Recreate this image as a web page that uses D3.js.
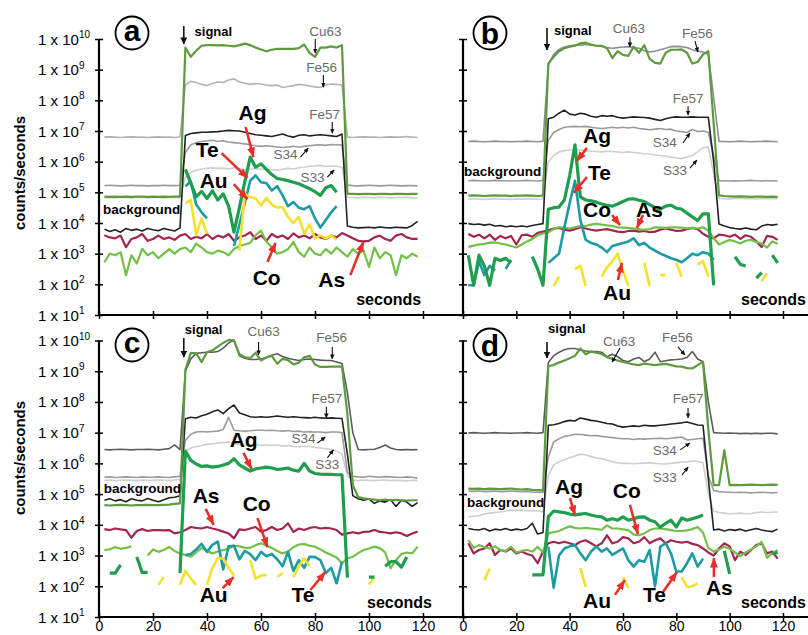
<!DOCTYPE html>
<html>
<head>
<meta charset="utf-8">
<title>LA-ICP-MS time-resolved signals</title>
<script src="https://d3js.org/d3.v7.min.js"></script>
<style>
  body { margin: 0; background: #fff; }
  svg { font-family: "Liberation Sans", Arial, sans-serif; }
</style>
</head>
<body>
<div id="chart"></div>
<script>
const _ = null;

// sample times (s)
const times = [2,4,6,8,10,12,14,16,18,20,
  22,24,26,28,30,32,34,36,38,40,
  42,44,46,48,50,52,54,56,58,60,
  62,64,66,68,70,72,74,76,78,80,
  82,84,86,88,90,92,94,96,98,100,
  102,104,106,108,110,112,114,116,118];

const decades = [1,2,3,4,5,6,7,8,9,10];
const xTicks = [0,20,40,60,80,100,120];

// all signals are log10(counts/s), one value per sample time, null = not shown
// ---- panel a ----
const aCu63 = [
4.86,4.85,4.86,4.85,4.86,4.85,4.86,4.86,4.85,4.86,
4.85,4.86,4.85,4.86,4.87,9.72,9.42,9.62,9.78,9.80,
9.80,9.79,9.80,9.78,9.76,9.80,9.85,9.80,9.72,9.66,
9.60,9.65,9.68,9.68,9.68,9.68,9.70,9.82,9.55,9.42,
9.72,9.72,9.76,9.72,9.80,4.96,4.95,4.94,4.95,4.95,
4.94,4.95,4.95,4.94,4.95,4.95,4.94,4.95,4.95];
const aFe56 = [
6.80,6.81,6.80,6.79,6.80,6.81,6.80,6.80,6.79,6.80,
6.81,6.80,6.80,6.79,6.81,8.50,8.62,8.58,8.52,8.48,
8.55,8.60,8.58,8.66,8.70,8.60,8.56,8.52,8.55,8.53,
8.50,8.48,8.50,8.42,8.45,8.48,8.52,8.50,8.47,8.44,
8.42,8.50,8.53,8.52,8.50,6.80,6.79,6.80,6.81,6.80,
6.80,6.79,6.80,6.81,6.80,6.80,6.82,6.80,6.79];
const aFe57 = [
3.80,3.72,3.78,3.70,3.82,3.76,3.80,3.74,3.82,3.78,
3.75,3.82,3.78,3.74,3.84,6.85,6.92,6.94,6.96,6.96,
6.97,6.98,7.00,7.02,7.01,7.00,6.96,6.92,6.88,6.86,
6.84,6.82,6.86,6.90,6.84,6.80,6.86,6.88,6.84,6.86,
6.88,6.86,6.84,6.82,6.90,3.90,3.86,3.84,3.85,3.86,
3.84,3.87,3.85,3.84,3.86,3.85,3.84,3.92,4.05];
const aS34 = [
5.22,5.23,5.22,5.21,5.22,5.23,5.22,5.22,5.21,5.22,
5.22,5.23,5.22,5.22,5.23,6.30,6.55,6.62,6.66,6.68,
6.70,6.66,6.68,6.64,6.62,6.60,6.58,6.55,6.52,6.50,
6.52,6.50,6.48,6.46,6.48,6.50,6.47,6.50,6.52,6.54,
6.55,6.53,6.56,6.55,6.54,5.24,5.22,5.21,5.22,5.23,
5.22,5.21,5.22,5.23,5.22,5.21,5.22,5.22,5.21];
const aS33 = [
4.82,4.83,4.82,4.84,4.83,4.82,4.83,4.84,4.82,4.83,
4.83,4.82,4.84,4.83,4.82,5.50,5.65,5.72,5.76,5.78,
5.80,5.78,5.79,5.76,5.80,5.78,5.74,5.76,5.78,5.75,
5.76,5.74,5.72,5.75,5.78,5.76,5.80,5.82,5.85,5.86,
5.88,5.84,5.86,5.85,5.82,4.84,4.83,4.82,4.84,4.83,
4.82,4.84,4.83,4.82,4.83,4.84,4.83,4.82,4.80];
const aAg = [
_,_,_,_,_,_,_,_,_,_,
_,_,_,_,_,5.75,5.30,4.85,5.03,4.80,
5.05,4.75,4.95,4.55,3.70,4.50,5.35,6.15,5.82,5.93,
5.75,5.58,5.45,5.42,5.38,5.33,5.28,5.20,5.12,5.02,
4.90,5.15,5.22,5.00,_,_,_,_,_,_,
_,_,_,_,_,_,_,_,_];
const aTe = [
_,_,_,_,_,_,_,_,_,_,
_,_,_,_,_,5.20,5.35,4.60,4.35,4.15,
_,_,_,_,3.25,3.95,4.65,5.38,5.55,5.33,
5.30,5.06,5.20,4.90,4.55,4.68,4.50,4.45,4.55,4.15,
3.85,4.10,4.35,4.55,_,_,_,_,_,_,
_,_,_,_,_,_,_,_,_];
const aAu = [
_,_,_,_,_,_,_,_,_,_,
_,_,_,_,_,4.65,4.75,3.60,4.15,3.65,
_,_,_,_,_,3.10,4.95,4.85,4.80,4.57,
4.82,4.60,4.50,4.52,4.20,4.00,4.20,3.65,3.95,3.50,
3.60,3.50,3.60,3.45,_,_,_,_,_,_,
_,_,_,_,_,_,_,_,_];
const aCo = [
2.72,3.00,2.95,3.05,2.30,2.95,2.68,3.16,2.95,3.05,
2.85,3.00,3.15,3.00,3.15,3.20,3.05,3.33,3.20,3.05,
3.00,3.10,3.05,2.95,3.15,3.25,3.30,3.35,3.60,3.75,
3.40,3.20,3.00,3.05,3.15,3.38,3.05,2.90,3.20,3.00,
2.95,3.15,3.00,3.20,3.05,2.90,3.15,3.00,3.10,2.57,
3.20,2.85,3.05,2.95,2.30,2.95,2.85,3.00,2.90];
const aAs = [
3.60,3.53,3.50,3.59,3.21,3.48,3.53,3.64,3.42,3.48,
3.59,3.48,3.53,3.45,3.59,3.64,3.48,3.55,3.50,3.64,
3.48,3.59,3.53,3.64,3.42,3.53,3.59,3.70,3.48,3.59,
3.42,3.64,3.53,3.59,3.48,3.66,3.53,3.59,3.50,3.64,
3.53,3.48,3.59,3.53,3.67,3.59,3.50,3.42,3.40,3.42,
3.53,3.59,3.48,3.42,3.59,3.64,3.53,3.48,3.48];

// ---- panel b ----
const bCu63 = [
4.89,4.90,4.89,4.88,4.89,4.90,4.89,4.89,4.88,4.89,
4.89,4.90,4.89,4.88,4.89,9.20,9.42,9.60,9.70,9.75,
9.78,9.86,9.88,9.82,9.78,9.78,9.70,9.38,9.60,9.48,
9.45,9.75,9.55,9.80,9.35,9.22,9.20,9.55,9.65,9.65,
9.66,9.55,9.20,9.25,9.50,9.60,7.25,4.90,4.88,4.87,
4.86,4.87,4.86,4.85,4.86,4.86,4.85,4.86,4.85];
const bFe56 = [
6.66,6.67,6.66,6.65,6.66,6.67,6.66,6.66,6.65,6.66,
6.66,6.67,6.66,6.65,6.67,9.15,9.50,9.66,9.74,9.78,
9.80,9.80,9.82,9.80,9.78,9.76,9.72,9.70,9.72,9.74,
9.75,9.72,9.70,9.62,9.58,9.60,9.65,9.70,9.75,9.76,
9.75,9.72,9.65,9.60,9.58,9.50,8.10,6.66,6.66,6.65,
6.66,6.67,6.66,6.65,6.66,6.66,6.67,6.66,6.65];
const bFe57 = [
3.98,3.95,3.97,3.93,3.96,3.90,3.92,3.88,3.90,3.88,
3.90,3.88,3.92,3.95,3.98,7.40,7.45,7.58,7.68,7.55,
7.52,7.58,7.55,7.48,7.45,7.50,7.48,7.50,7.45,7.42,
7.44,7.46,7.45,7.44,7.42,7.38,7.34,7.40,7.44,7.46,
7.45,7.45,7.46,7.45,7.45,7.45,6.00,3.97,3.90,3.85,
3.82,3.80,3.84,3.80,3.78,3.90,3.95,3.93,3.96];
const bS34 = [
5.38,5.39,5.38,5.37,5.38,5.39,5.38,5.38,5.37,5.38,
5.38,5.39,5.38,5.37,5.39,6.70,6.95,7.05,7.12,7.14,
7.15,7.14,7.15,7.12,7.10,7.08,7.10,7.12,7.10,7.12,
7.10,7.12,7.08,7.06,7.04,7.06,7.08,7.05,7.06,7.00,
6.98,6.95,7.05,6.98,7.00,6.96,6.20,5.38,5.38,5.37,
5.38,5.37,5.38,5.39,5.38,5.37,5.38,5.38,5.37];
const bS33 = [
4.78,4.79,4.78,4.77,4.78,4.79,4.78,4.78,4.77,4.78,
4.78,4.79,4.78,4.77,4.79,6.00,6.20,6.32,6.36,6.38,
6.40,6.38,6.36,6.34,6.33,6.32,6.34,6.33,6.32,6.30,
6.32,6.30,6.28,6.26,6.25,6.22,6.20,6.18,6.15,6.12,
6.10,6.15,6.20,6.32,6.45,6.48,5.60,4.80,4.79,4.78,
4.80,4.81,4.79,4.80,4.78,4.80,4.79,4.80,4.79];
const bAg = [
2.95,1.97,2.95,2.60,1.97,2.85,2.78,2.85,2.70,_,
_,_,2.90,2.50,1.97,4.45,4.50,4.52,4.75,5.55,
6.55,4.85,4.75,4.72,4.68,4.62,4.58,4.55,4.62,4.70,
4.78,4.79,4.74,4.70,4.60,4.50,4.45,4.55,4.58,4.48,
4.45,4.32,4.20,4.08,4.30,4.30,1.97,_,_,_,
2.90,2.65,2.60,_,2.20,2.38,_,2.95,2.70];
const bTe = [
1.97,1.97,2.75,2.30,2.60,2.45,_,2.50,2.80,_,
_,_,_,_,_,2.70,2.85,3.00,3.85,4.65,
5.38,4.10,3.45,3.35,3.30,3.20,3.05,3.25,3.30,3.35,
3.40,3.50,3.28,3.35,3.20,3.10,3.00,2.93,2.85,2.80,
2.72,2.85,3.00,2.95,3.05,3.00,2.80,_,_,_,
_,_,_,_,_,_,_,_,_];
const bAu = [
_,_,_,_,_,_,_,_,_,_,
_,_,_,_,_,_,1.95,2.25,_,_,
2.50,2.60,1.95,_,_,2.25,2.55,2.75,3.00,2.45,
1.95,_,_,2.70,1.95,_,2.30,2.30,_,2.70,
2.25,_,_,2.65,2.75,2.25,_,_,_,_,
_,_,_,_,_,2.10,2.35,_,_];
const bCo = [
3.22,3.26,3.30,3.32,3.36,3.37,3.33,3.30,3.25,3.20,
3.30,3.40,3.48,3.60,3.66,3.70,3.80,3.86,3.85,3.82,
3.86,3.90,3.90,3.95,3.97,3.95,3.92,3.90,3.86,3.85,
3.84,3.82,3.80,3.78,3.80,3.86,3.85,3.84,3.86,3.86,
3.85,3.82,3.84,3.82,3.86,3.75,3.50,3.30,3.38,3.45,
3.40,3.33,3.42,3.45,3.38,3.33,3.20,3.40,3.32];
const bAs = [
3.64,3.55,3.62,3.50,3.62,3.45,3.58,3.50,3.58,3.30,
3.60,3.62,3.55,3.68,3.72,3.76,3.82,3.84,3.78,3.75,
3.80,3.86,3.82,3.78,3.75,3.78,3.80,3.76,3.72,3.70,
3.74,3.75,3.72,3.74,3.70,3.72,3.78,3.82,3.78,3.74,
3.75,3.80,3.84,3.80,3.65,3.55,3.50,3.62,3.60,3.55,
3.62,3.48,3.60,3.55,3.40,3.22,3.58,3.55,3.45];

// ---- panel c ----
const cCu63 = [
4.64,4.63,4.64,4.65,4.64,4.63,4.64,4.64,4.65,4.64,
4.64,4.65,4.66,4.68,4.70,9.05,9.60,9.58,9.30,9.62,
9.68,9.80,9.92,10.02,10.00,9.55,9.46,9.42,9.60,9.35,
9.45,9.50,9.25,9.40,9.36,9.22,9.28,9.45,9.50,9.22,
9.14,9.14,9.15,9.15,9.16,7.60,5.30,4.90,4.86,4.84,
4.82,4.80,4.82,4.80,4.81,4.80,4.79,4.80,4.80];
const cFe56 = [
6.45,6.44,6.45,6.46,6.45,6.44,6.45,6.45,6.46,6.45,
6.44,6.46,6.48,6.60,6.45,9.00,9.40,9.58,9.60,9.62,
9.62,9.64,9.75,9.92,10.02,9.50,9.42,9.38,9.38,9.40,
9.45,9.52,9.57,9.48,9.42,9.38,9.35,9.38,9.40,9.38,
9.36,9.35,9.35,9.30,9.25,8.30,7.00,6.45,6.44,6.45,
6.46,6.52,6.60,6.50,6.45,6.44,6.45,6.44,6.45];
const cFe57 = [
4.80,4.85,4.78,4.82,4.75,4.85,4.80,4.78,4.86,4.80,
4.75,4.82,4.88,4.90,4.95,7.45,7.50,7.48,7.55,7.60,
7.68,7.74,7.62,7.78,7.90,7.64,7.58,7.52,7.50,7.52,
7.50,7.52,7.54,7.52,7.50,7.52,7.50,7.49,7.48,7.50,
7.48,7.47,7.48,7.47,7.46,6.30,4.95,4.85,4.80,4.84,
4.70,4.78,4.74,4.82,4.60,4.80,4.74,4.60,4.72];
const cS34 = [
5.55,5.56,5.54,5.55,5.56,5.55,5.54,5.56,5.55,5.55,
5.56,5.55,5.54,5.56,5.58,6.75,6.95,7.02,7.04,7.02,
7.04,7.05,7.10,7.50,7.08,7.06,7.05,7.06,7.08,7.08,
7.07,7.08,7.06,7.05,7.07,7.04,7.05,7.02,7.03,7.02,
7.02,7.00,7.02,7.02,7.00,5.70,5.58,5.56,5.55,5.58,
5.56,5.55,5.57,5.56,5.55,5.54,5.56,5.55,5.52];
const cS33 = [
5.45,5.46,5.44,5.45,5.46,5.45,5.44,5.46,5.45,5.45,
5.46,5.45,5.44,5.46,5.48,6.40,6.50,6.55,6.58,6.62,
6.64,6.66,6.68,6.70,6.64,6.60,6.58,6.60,6.62,6.58,
6.60,6.58,6.60,6.56,6.58,6.55,6.54,6.56,6.55,6.52,
6.50,6.48,6.45,6.40,6.30,5.60,5.45,5.44,5.46,5.45,
5.44,5.45,5.46,5.44,5.45,5.44,5.43,5.45,5.44];
const cAg = [
_,2.43,2.43,2.70,_,_,2.95,2.45,2.45,_,
_,_,_,_,2.43,6.40,6.10,5.98,5.90,5.92,
5.88,5.90,5.95,6.00,6.15,5.95,5.85,5.75,5.82,5.85,
5.88,5.85,5.80,5.82,5.85,5.78,5.75,6.00,5.75,5.67,
5.65,5.64,5.64,5.63,5.63,2.28,_,_,_,2.30,
2.30,_,2.65,2.80,2.80,2.62,2.95,_,_];
const cTe = [
_,_,_,_,_,_,_,_,_,_,
_,_,_,_,_,3.02,3.05,3.20,3.38,3.12,
3.35,3.45,2.55,3.30,3.32,2.88,3.15,3.05,2.85,3.12,
2.98,3.05,2.88,2.65,3.12,2.50,2.85,2.60,2.96,2.95,
2.85,2.43,2.60,2.10,2.80,_,_,_,_,_,
_,_,_,_,_,_,_,_,_];
const cAu = [
_,_,_,_,_,_,_,_,_,_,
2.05,2.30,_,_,2.05,2.50,2.25,2.05,_,2.05,
2.60,2.92,2.90,2.60,2.35,_,_,2.85,2.25,2.35,
2.37,_,2.31,2.43,_,2.30,2.65,2.91,2.65,_,
_,_,_,_,_,_,_,_,_,2.05,
2.30,_,_,_,_,_,_,_,_];
const cCo = [
3.18,3.20,3.28,3.22,3.25,3.30,_,_,3.00,3.20,
3.12,3.18,3.28,3.15,3.07,3.02,2.96,3.10,3.25,3.15,
3.07,3.13,3.18,3.23,3.32,3.30,3.26,3.25,3.34,3.40,
3.32,3.25,3.15,3.07,3.13,3.27,3.36,3.38,3.32,3.29,
3.20,3.10,3.02,2.94,2.75,2.91,2.96,3.08,3.18,3.23,
3.29,3.24,3.10,2.58,2.85,3.05,3.10,3.07,3.29];
const cAs = [
3.86,3.83,3.88,3.85,3.83,3.58,3.80,3.86,3.80,3.83,
3.83,3.82,3.83,3.72,3.76,3.83,3.93,3.90,3.88,3.93,
3.88,3.84,3.78,3.72,3.56,3.85,3.83,3.88,3.93,3.78,
3.83,3.93,3.83,3.88,4.05,3.77,3.88,3.83,3.90,3.93,
3.88,3.90,3.88,3.83,3.68,3.72,3.76,3.72,3.77,3.78,
3.83,3.77,3.75,3.72,3.76,3.72,3.64,3.72,3.78];

// ---- panel d ----
const dCu63 = [
5.18,5.17,5.18,5.16,5.18,5.17,5.16,5.17,5.18,5.16,
5.15,5.16,5.14,5.13,5.12,9.17,9.20,9.28,9.35,9.42,
9.50,9.74,9.55,9.64,9.60,9.56,9.46,9.40,9.35,9.30,
9.26,9.22,9.20,9.25,9.22,9.20,9.22,9.24,9.20,9.16,
9.15,9.10,9.09,9.20,9.31,7.10,5.29,5.29,6.43,5.29,
5.30,5.29,5.30,5.31,5.30,5.29,5.30,5.31,5.30];
const dFe56 = [
6.99,7.00,6.99,6.98,6.99,7.00,6.99,6.99,6.98,6.99,
6.99,7.00,6.99,6.98,7.00,9.28,9.50,9.62,9.70,9.74,
9.74,9.70,9.66,9.64,9.64,9.62,9.47,9.55,9.47,9.35,
9.31,9.40,9.45,9.31,9.40,9.62,9.31,9.34,9.37,9.38,
9.40,9.45,9.64,9.40,9.31,8.00,7.00,6.99,6.98,6.99,
6.98,6.97,6.98,6.97,6.98,6.97,6.98,6.98,6.96];
const dFe57 = [
3.88,3.85,3.83,3.88,3.80,3.86,3.83,3.88,3.82,3.86,
3.83,3.88,4.05,3.70,3.75,7.24,7.26,7.30,7.36,7.40,
7.38,7.48,7.44,7.40,7.38,7.34,7.30,7.28,7.22,7.18,
7.20,7.22,7.20,7.24,7.22,7.22,7.24,7.26,7.28,7.30,
7.32,7.35,7.30,7.25,7.24,5.50,3.83,3.86,3.80,3.85,
3.82,3.86,3.80,3.84,3.88,3.83,3.80,3.78,3.86];
const dS34 = [
5.10,5.09,5.10,5.08,5.09,5.10,5.08,5.09,5.10,5.09,
5.08,5.09,5.07,5.06,5.05,6.20,6.70,6.80,6.88,6.91,
6.95,6.94,6.92,6.90,6.91,6.88,6.86,6.84,6.82,6.80,
6.80,6.78,6.80,6.79,6.80,6.81,6.82,6.80,6.82,6.84,
6.86,6.76,6.78,6.80,6.82,5.60,5.12,5.08,5.07,5.06,
5.05,5.06,5.05,5.04,5.05,5.06,5.05,5.04,5.05];
const dS33 = [
4.26,4.28,4.30,4.35,4.38,4.40,4.42,4.45,4.48,4.47,
4.48,4.46,4.47,4.45,4.42,5.60,5.95,6.05,6.12,6.18,
6.24,6.30,6.28,6.22,6.18,6.15,6.10,6.05,6.02,6.00,
6.00,5.99,6.00,6.01,6.02,6.00,5.99,5.98,6.00,6.02,
6.04,6.05,6.08,6.06,6.02,5.00,4.45,4.40,4.38,4.36,
4.37,4.38,4.36,4.37,4.40,4.42,4.40,4.41,4.42];
const dAg = [
_,_,_,_,_,_,_,_,_,_,
_,_,2.37,2.37,2.37,4.26,4.45,4.42,4.40,4.35,
4.32,4.35,4.37,4.32,4.28,4.26,4.15,4.20,4.15,4.26,
4.15,4.20,4.25,4.26,4.15,4.10,3.92,4.05,4.15,3.93,
4.22,4.15,4.20,4.25,4.32,_,_,_,3.15,2.40,
_,_,_,_,_,_,_,3.05,3.10];
const dTe = [
_,_,_,_,_,_,_,_,_,_,
_,_,_,_,_,3.29,1.95,3.00,3.23,3.30,
3.34,3.07,2.85,3.13,3.29,3.13,3.23,3.02,3.13,3.23,
2.85,2.64,2.85,2.80,3.18,2.00,3.29,3.40,3.07,2.48,
2.48,2.75,3.07,2.64,2.90,_,_,_,_,_,
_,_,_,_,_,_,_,_,_];
const dAu = [
_,_,_,2.20,2.58,_,_,_,_,_,
_,_,_,_,_,_,_,_,_,_,
_,2.60,1.98,_,_,_,_,_,_,2.30,
1.95,_,_,_,_,_,_,_,_,_,
2.30,1.98,2.00,2.10,_,_,_,_,_,_,
_,_,_,_,_,_,_,_,_];
const dCo = [
3.50,3.25,3.34,3.28,3.23,3.30,3.18,3.15,3.29,3.10,
3.15,3.18,3.13,3.28,3.10,3.72,3.76,3.80,3.88,3.95,
3.90,3.88,3.90,3.88,3.86,3.84,3.98,3.88,3.88,3.85,
3.83,3.68,3.66,3.72,3.83,3.88,3.88,3.86,3.83,3.80,
3.80,3.82,3.86,3.93,3.75,3.25,3.13,3.20,3.29,3.22,
3.10,2.98,3.10,3.20,3.30,3.45,2.93,3.07,3.18];
const dAs = [
3.40,3.07,3.18,3.23,3.40,3.02,3.18,3.13,3.23,3.07,
3.13,3.05,3.00,2.75,3.13,3.40,3.45,3.40,3.45,3.40,
3.34,3.45,3.50,3.40,3.30,3.40,3.66,3.40,3.45,3.60,
3.56,3.40,3.45,3.60,3.40,3.50,3.56,3.40,3.50,3.45,
3.42,3.45,3.38,3.34,3.23,3.10,3.00,3.23,3.40,3.30,
2.85,3.13,3.02,3.18,3.34,3.40,3.07,3.13,2.90];

// annotations, placed in data units: t = seconds, v = log10(counts/s)
const notesA = [
  {kind: "signal", text: "signal", t: 35.4, v: 10.10, arrow: [31.4, 10.42, 31.4, 9.84]},
  {kind: "iso", text: "Cu63", t: 77.9, v: 10.10, arrow: [80.1, 10.0, 80.1, 9.54]},
  {kind: "iso", text: "Fe56", t: 76.8, v: 8.92, arrow: [83.1, 8.83, 83.1, 8.43]},
  {kind: "iso", text: "Fe57", t: 77.9, v: 7.39, arrow: [86.4, 7.29, 86.4, 6.93]},
  {kind: "iso", text: "S34", t: 64.6, v: 6.09, arrow: [74.6, 6.15, 77.5, 6.44]},
  {kind: "iso", text: "S33", t: 74.6, v: 5.34, arrow: [84.6, 5.50, 87.1, 5.73]},
  {kind: "elem", text: "Ag", t: 51.7, v: 7.36, arrow: [54.3, 7.13, 57.2, 6.15]},
  {kind: "elem", text: "Te", t: 35.8, v: 6.15, arrow: [45.4, 6.28, 55.0, 5.47]},
  {kind: "elem", text: "Au", t: 37.3, v: 5.14, arrow: [49.9, 5.27, 55.0, 4.78]},
  {kind: "elem", text: "Co", t: 56.9, v: 1.98, arrow: [62.4, 2.73, 65.4, 3.35]},
  {kind: "elem", text: "As", t: 81.2, v: 1.91, arrow: [93.1, 2.30, 97.9, 3.38]},
  {kind: "word", text: "background", t: 1.5, v: 4.29},
  {kind: "axis", text: "seconds", t: 119.3, v: 1.33, anchor: "end"}
];
const notesB = [
  {kind: "signal", text: "signal", t: 34.1, v: 10.13, arrow: [31.5, 10.36, 31.5, 9.64]},
  {kind: "iso", text: "Cu63", t: 56.2, v: 10.19, arrow: [62.6, 10.06, 62.6, 9.74]},
  {kind: "iso", text: "Fe56", t: 82.1, v: 10.03, arrow: [87.0, 9.93, 88.1, 9.58]},
  {kind: "iso", text: "Fe57", t: 78.7, v: 7.91, arrow: [84.4, 7.81, 84.4, 7.52]},
  {kind: "iso", text: "S34", t: 71.2, v: 6.48, arrow: [82.5, 6.61, 85.1, 6.93]},
  {kind: "iso", text: "S33", t: 75.0, v: 5.56, arrow: [85.1, 5.79, 87.7, 6.05]},
  {kind: "elem", text: "Ag", t: 45.0, v: 6.61, arrow: [46.5, 6.45, 42.7, 6.02]},
  {kind: "elem", text: "Te", t: 46.9, v: 5.40, arrow: [46.5, 5.50, 41.6, 4.98]},
  {kind: "elem", text: "Co", t: 45.0, v: 4.20, arrow: [55.9, 4.26, 58.9, 3.93]},
  {kind: "elem", text: "As", t: 64.9, v: 4.20, arrow: [67.5, 4.26, 65.2, 3.84]},
  {kind: "elem", text: "Au", t: 52.5, v: 1.49, arrow: [58.1, 2.14, 59.6, 2.70]},
  {kind: "word", text: "background", t: 0.4, v: 5.53},
  {kind: "axis", text: "seconds", t: 128.6, v: 1.33, anchor: "end"}
];
const notesC = [
  {kind: "signal", text: "signal", t: 31.8, v: 10.21, arrow: [31.4, 10.08, 31.4, 9.46]},
  {kind: "iso", text: "Cu63", t: 55.0, v: 10.15, arrow: [59.1, 9.95, 59.1, 9.53]},
  {kind: "iso", text: "Fe56", t: 80.5, v: 9.95, arrow: [86.4, 9.79, 86.4, 9.40]},
  {kind: "iso", text: "Fe57", t: 78.7, v: 7.97, arrow: [84.2, 7.84, 84.2, 7.48]},
  {kind: "iso", text: "S34", t: 71.3, v: 6.66, arrow: [80.9, 6.66, 83.8, 6.86]},
  {kind: "iso", text: "S33", t: 80.1, v: 5.82, arrow: [84.6, 6.18, 86.8, 6.44]},
  {kind: "elem", text: "Ag", t: 48.4, v: 6.53, arrow: [53.5, 6.34, 56.5, 5.82]},
  {kind: "elem", text: "As", t: 34.7, v: 4.71, arrow: [39.5, 4.52, 42.5, 4.0]},
  {kind: "elem", text: "Co", t: 53.2, v: 4.45, arrow: [58.7, 4.22, 62.4, 3.28]},
  {kind: "elem", text: "Au", t: 37.3, v: 1.49, arrow: [45.8, 1.94, 49.9, 2.30]},
  {kind: "elem", text: "Te", t: 71.3, v: 1.49, arrow: [78.3, 1.88, 83.8, 2.46]},
  {kind: "word", text: "background", t: 1.8, v: 5.04},
  {kind: "axis", text: "seconds", t: 123.3, v: 1.29, anchor: "end"}
];
const notesD = [
  {kind: "signal", text: "signal", t: 31.9, v: 10.24, arrow: [31.5, 9.95, 31.5, 9.43]},
  {kind: "iso", text: "Cu63", t: 52.5, v: 9.82, arrow: [58.9, 9.76, 55.9, 9.30]},
  {kind: "iso", text: "Fe56", t: 74.6, v: 9.95, arrow: [80.6, 9.79, 83.2, 9.53]},
  {kind: "iso", text: "Fe57", t: 78.7, v: 7.97, arrow: [84.4, 7.80, 84.4, 7.48]},
  {kind: "iso", text: "S34", t: 71.2, v: 6.27, arrow: [81.4, 6.44, 85.1, 6.66]},
  {kind: "iso", text: "S33", t: 71.2, v: 5.39, arrow: [82.1, 5.62, 84.4, 5.88]},
  {kind: "elem", text: "Ag", t: 34.5, v: 5.0, arrow: [40.1, 4.87, 42.0, 4.32]},
  {kind: "elem", text: "Co", t: 56.2, v: 4.87, arrow: [62.6, 4.65, 65.6, 3.70]},
  {kind: "elem", text: "Au", t: 45.0, v: 1.29, arrow: [57.0, 1.72, 60.7, 2.20]},
  {kind: "elem", text: "Te", t: 67.5, v: 1.49, arrow: [75.0, 1.81, 80.2, 2.46]},
  {kind: "elem", text: "As", t: 91.1, v: 1.72, arrow: [94.1, 2.30, 94.1, 2.92]},
  {kind: "word", text: "background", t: 1.5, v: 4.58},
  {kind: "axis", text: "seconds", t: 128.6, v: 1.29, anchor: "end"}
];

// styles
const lineStyle = {
  S33:  {color: "#cfcfcf", width: 1.6},
  S34:  {color: "#9b9b9b", width: 1.6},
  Fe56: {color: "#8f8f8f", width: 1.6},
  Fe57: {color: "#222222", width: 1.6},
  Cu63: {color: "#5e9a40", width: 2.2},
  As:   {color: "#a3264f", width: 2.2},
  Co:   {color: "#74bf48", width: 2.2},
  Te:   {color: "#1b9ba3", width: 2.6},
  Au:   {color: "#f3e22c", width: 2.6},
  Ag:   {color: "#1f9e4d", width: 3.2}
};
const drawOrder = ["S33", "S34", "Fe56", "Fe57", "Cu63", "As", "Co", "Te", "Au", "Ag"];

const noteStyle = {
  elem:   {size: 21, weight: "bold", fill: "#000", stroke: "#e8302a", sw: 2.6, head: "headRed"},
  iso:    {size: 13.5, weight: "normal", fill: "#6b6b6b", stroke: "#111", sw: 1.1, head: "headBlack"},
  signal: {size: 13, weight: "bold", fill: "#000", stroke: "#111", sw: 1.6, head: "headSignal"},
  word:   {size: 13.5, weight: "bold", fill: "#000"},
  axis:   {size: 16, weight: "bold", fill: "#000"}
};

// layout of the four panels
const panels = [
  {letter: "a", notes: notesA, fe56: "#b3b3b3", x0: 99, x1: 423, xEnd: 463, yBot: 315, yTop: 39,
   yLabels: true, xLabels: false, badge: [132, 33], title: 173,
   lines: {Cu63: aCu63, Fe56: aFe56, Fe57: aFe57, S34: aS34, S33: aS33, Ag: aAg, Te: aTe, Au: aAu, Co: aCo, As: aAs}},
  {letter: "b", notes: notesB, fe56: "#8f8f8f", x0: 463, x1: 783, xEnd: 808, yBot: 315, yTop: 39,
   yLabels: false, xLabels: false, badge: [490, 33],
   lines: {Cu63: bCu63, Fe56: bFe56, Fe57: bFe57, S34: bS34, S33: bS33, Ag: bAg, Te: bTe, Au: bAu, Co: bCo, As: bAs}},
  {letter: "c", notes: notesC, fe56: "#5c5c5c", x0: 99, x1: 423, xEnd: 463, yBot: 617, yTop: 340.5,
   yLabels: true, xLabels: true, badge: [132, 345], title: 458,
   lines: {Cu63: cCu63, Fe56: cFe56, Fe57: cFe57, S34: cS34, S33: cS33, Ag: cAg, Te: cTe, Au: cAu, Co: cCo, As: cAs}},
  {letter: "d", notes: notesD, fe56: "#5c5c5c", x0: 463, x1: 783, xEnd: 808, yBot: 617, yTop: 340.5,
   yLabels: false, xLabels: true, badge: [490, 345],
   lines: {Cu63: dCu63, Fe56: dFe56, Fe57: dFe57, S34: dS34, S33: dS33, Ag: dAg, Te: dTe, Au: dAu, Co: dCo, As: dAs}}
];

const width = 808;
const height = 635;

const svg = d3.select("#chart").append("svg")
  .attr("width", width)
  .attr("height", height)
  .attr("viewBox", [0, 0, width, height]);

// arrow heads
const defs = svg.append("defs");
function addHead(id, color, len, wid) {
  defs.append("marker")
    .attr("id", id)
    .attr("viewBox", `0 0 ${len} ${wid}`)
    .attr("refX", len - 0.5)
    .attr("refY", wid / 2)
    .attr("markerWidth", len)
    .attr("markerHeight", wid)
    .attr("markerUnits", "userSpaceOnUse")
    .attr("orient", "auto")
    .append("path")
    .attr("d", `M0,0L${len},${wid / 2}L0,${wid}Z`)
    .attr("fill", color);
}
addHead("headRed", "#e8302a", 10, 8);
addHead("headBlack", "#111", 5, 4.5);
addHead("headSignal", "#111", 7, 7);

function drawPanel(p) {
  const x = d3.scaleLinear().domain([0, 120]).range([p.x0, p.x1]);
  const y = d3.scaleLog().domain([10, 1e10]).range([p.yBot, p.yTop]);
  const g = svg.append("g");

  // y ticks crossing the axis
  const yAx = g.append("g")
    .attr("transform", `translate(${x(0) + 4},0)`)
    .call(d3.axisLeft(y).tickValues(decades.map(e => 10 ** e)).tickSize(8).tickFormat(""));
  yAx.select(".domain").remove();
  yAx.selectAll("line").attr("stroke-width", 1.5);

  // x ticks crossing the axis
  const xAx = g.append("g")
    .attr("transform", `translate(0,${y(10) - 4})`)
    .call(d3.axisBottom(x).tickValues(xTicks).tickSize(8).tickPadding(0)
      .tickFormat(p.xLabels ? d3.format("d") : ""));
  xAx.select(".domain").remove();
  xAx.selectAll("line").attr("stroke-width", 1.5);
  xAx.attr("font-size", 14).attr("font-family", null);
  xAx.selectAll("text").attr("fill", "#000");

  // axis lines
  g.append("line")
    .attr("x1", x(0)).attr("x2", x(0))
    .attr("y1", y(1e10)).attr("y2", y(10))
    .attr("stroke", "#000").attr("stroke-width", 2.2);
  g.append("line")
    .attr("x1", x(0) - 1).attr("x2", p.xEnd)
    .attr("y1", y(10)).attr("y2", y(10))
    .attr("stroke", "#000").attr("stroke-width", 2.2);

  // "1 x 10^n" labels
  if (p.yLabels) {
    decades.forEach(e => {
      const t = g.append("text")
        .attr("x", 38)
        .attr("y", y(10 ** e) + 5.5)
        .attr("font-size", 15);
      t.append("tspan").text("1 x 10");
      t.append("tspan").attr("dy", -6.5).attr("font-size", 10).text(e);
    });
    svg.append("text")
      .attr("transform", `translate(25,${p.title}) rotate(-90)`)
      .attr("text-anchor", "middle")
      .attr("font-size", 15)
      .attr("font-weight", "bold")
      .text("counts/seconds");
  }

  // signals
  const line = d3.line()
    .defined(d => d !== null)
    .x((d, i) => x(times[i]))
    .y(d => y(10 ** d));

  drawOrder.forEach(name => {
    const st = lineStyle[name];
    g.append("path")
      .datum(p.lines[name])
      .attr("fill", "none")
      .attr("stroke", name === "Fe56" ? p.fe56 : st.color)
      .attr("stroke-width", st.width)
      .attr("stroke-linejoin", "round")
      .attr("d", line);
  });

  // labels and arrows
  p.notes.forEach(n => {
    const s = noteStyle[n.kind];
    if (n.arrow) {
      g.append("line")
        .attr("x1", x(n.arrow[0])).attr("y1", y(10 ** n.arrow[1]))
        .attr("x2", x(n.arrow[2])).attr("y2", y(10 ** n.arrow[3]))
        .attr("stroke", s.stroke)
        .attr("stroke-width", s.sw)
        .attr("marker-end", `url(#${s.head})`);
    }
    g.append("text")
      .attr("x", x(n.t))
      .attr("y", y(10 ** n.v))
      .attr("text-anchor", n.anchor || "start")
      .attr("font-size", s.size)
      .attr("font-weight", s.weight)
      .attr("fill", s.fill)
      .text(n.text);
  });

  // circled panel letter
  g.append("circle")
    .attr("cx", p.badge[0]).attr("cy", p.badge[1]).attr("r", 16.5)
    .attr("fill", "#fff").attr("stroke", "#000").attr("stroke-width", 1.8);
  g.append("text")
    .attr("x", p.badge[0])
    .attr("y", p.badge[1] + (/[bd]/.test(p.letter) ? 11 : 8))
    .attr("text-anchor", "middle")
    .attr("font-size", 30)
    .attr("font-weight", "bold")
    .text(p.letter);
}

panels.forEach(drawPanel);
</script>
</body>
</html>
